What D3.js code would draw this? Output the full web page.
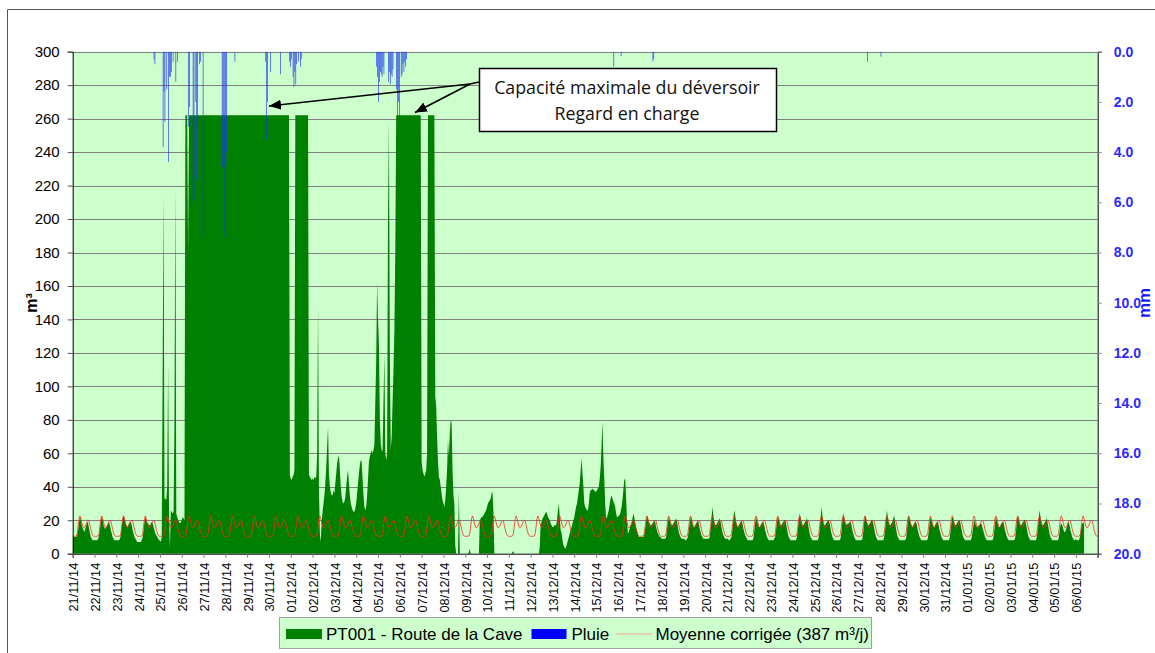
<!DOCTYPE html>
<html>
<head>
<meta charset="utf-8">
<script src="https://cdn.jsdelivr.net/npm/d3@7"></script>
<style>
  body { margin: 0; background: #fff; }
  svg { display: block; font-family: Arial, "Liberation Sans", sans-serif; }
</style>
</head>
<body>
<svg id="chart" width="1155" height="653"></svg>
<script>
// ---- Axis labels and ticks ----
const dayLabels = [
  "21/11/14","22/11/14","23/11/14","24/11/14","25/11/14","26/11/14","27/11/14","28/11/14","29/11/14","30/11/14",
  "01/12/14","02/12/14","03/12/14","04/12/14","05/12/14","06/12/14","07/12/14","08/12/14","09/12/14","10/12/14",
  "11/12/14","12/12/14","13/12/14","14/12/14","15/12/14","16/12/14","17/12/14","18/12/14","19/12/14","20/12/14",
  "21/12/14","22/12/14","23/12/14","24/12/14","25/12/14","26/12/14","27/12/14","28/12/14","29/12/14","30/12/14",
  "31/12/14","01/01/15","02/01/15","03/01/15","04/01/15","05/01/15","06/01/15"
];
const flowTicks = [0, 20, 40, 60, 80, 100, 120, 140, 160, 180, 200, 220, 240, 260, 280, 300];
const rainTicks = [0, 2, 4, 6, 8, 10, 12, 14, 16, 18, 20];

// ---- Hourly flow at PT001 (m³ per hour), one row per day, 0h..23h ----
const flowNov = [
  [11,10,10,10,10,11,14,19,22,20,17,15,14,13,15,17,19,18,15,12,10,9,8,8],
  [8,8,8,8,9,11,15,20,22,20,17,15,15,16,17,18,19,17,14,12,10,9,8,8],
  [8,8,8,8,9,11,16,21,23,21,18,17,16,17,18,19,19,17,14,12,10,9,8,7],
  [7,7,7,7,8,10,14,19,22,20,18,18,17,17,18,19,18,16,14,12,11,10,9,8],
  [8,7,10,110,216,33,33,32,40,114,25,3,26,25,24,25,80,220,24,22,20,19,18,19],
  [20,22,21,20,262,262,262,180,262,262,262,262,262,262,262,262,262,262,262,262,262,262,262,262],
  [262,262,262,262,262,262,262,262,262,262,262,262,262,262,262,262,262,262,262,262,262,262,262,262],
  [262,262,262,262,262,262,262,262,262,262,262,262,262,262,262,262,262,262,262,262,262,262,262,262],
  [262,262,262,262,262,262,262,262,262,262,262,262,262,262,262,262,262,262,262,262,262,262,262,262],
  [262,262,262,262,262,262,262,262,262,262,262,262,262,262,262,262,262,262,262,262,262,262,262,47]
];
const flowDec = [
  [45,44,46,47,50,262,262,262,262,262,262,262,262,262,262,262,262,262,262,262,47,46,45,44],
  [45,44,46,45,46,60,148,40,12,7,20,25,30,35,42,52,64,76,48,40,37,35,35,38],
  [36,42,48,54,57,59,50,40,34,31,30,31,34,40,46,50,42,35,30,28,26,25,25,27],
  [30,36,42,48,53,56,55,45,35,28,26,28,35,45,55,58,60,62,60,62,65,90,115,162],
  [140,126,80,66,62,61,90,120,60,56,60,200,259,120,62,70,90,110,134,180,262,262,262,262],
  [262,262,262,262,262,262,262,262,262,262,262,262,262,262,262,262,262,262,262,262,262,262,262,262],
  [55,50,48,46,48,50,60,262,262,262,262,262,262,262,262,94,88,70,55,46,44,40,36,32],
  [30,28,32,40,50,68,58,72,80,78,50,35,30,5,0,0,0,38,0,0,0,0,0,0],
  [0,0,0,0,1,3,0,0,0,0,0,0,0,0,0,0,20,21,22,22,23,24,25,26],
  [28,30,31,32,33,36,37,25,0,0,0,0,0,0,0,0,0,0,0,0,0,0,0,0],
  [0,0,0,0,1,1.5,0,0,0,0,0,0,0,0,0,0,0,0,0,0,0,0,0,0],
  [0,0,0,0,0,0,0,0,0,0,4,17,19,21,22,23,24,25,24,22,21,20,18,17],
  [16,16,17,17,17,20,26,30,22,14,12,8,5,4,3,4,6,8,10,12,14,16,18,20],
  [22,25,28,30,34,38,42,50,57,48,40,30,28,27,26,26,30,36,38,38,39,38,38,37],
  [37,38,39,40,45,52,65,79,58,45,30,21,22,24,26,30,33,35,33,31,30,28,24,22],
  [22,23,23,25,28,32,38,44,45,34,20,12,13,15,17,18,21,24,22,19,16,14,12,10],
  [10,10,10,10,10,11,15,19,23,21,19,18,17,17,18,19,20,19,16,14,12,11,10,10],
  [9,9,9,9,9,10,14,19,22,20,18,17,17,18,19,20,21,19,16,13,11,10,9,9],
  [9,9,8,8,9,10,14,18,22,21,18,16,16,17,18,19,20,18,15,13,11,10,9,9],
  [9,9,9,9,9,10,15,21,28,23,19,17,17,18,19,20,21,19,16,13,11,10,9,9],
  [9,9,8,8,9,10,14,20,26,23,19,17,16,17,18,19,20,18,15,13,11,10,9,8],
  [8,8,8,8,8,9,13,18,22,20,18,16,16,17,18,19,19,17,14,12,10,9,8,8],
  [8,8,8,8,9,10,14,19,22,21,18,17,17,18,19,20,20,18,15,12,10,9,8,8],
  [8,8,8,8,8,10,14,20,24,22,19,17,17,18,19,20,21,19,15,12,10,9,8,8],
  [8,8,8,8,8,10,14,20,28,23,19,17,17,18,19,20,20,18,15,12,10,9,8,8],
  [8,8,8,8,8,9,13,20,24,22,19,18,17,18,18,19,19,17,14,12,10,9,8,8],
  [8,8,8,8,8,9,13,19,23,21,19,17,17,18,19,20,20,18,15,12,10,9,8,8],
  [8,8,8,8,8,10,14,20,26,22,19,17,17,18,19,21,23,19,15,12,10,9,8,8],
  [8,8,8,8,8,9,13,19,23,21,18,17,16,17,18,19,19,17,14,12,10,9,8,8],
  [8,8,8,8,8,9,13,18,22,20,18,16,16,17,18,19,19,17,14,12,10,9,8,8],
  [8,8,8,8,8,9,13,18,22,21,18,17,17,18,19,20,20,18,15,12,10,9,8,8]
];
const flowJan = [
  [8,8,8,8,8,9,12,16,20,19,17,16,16,17,17,18,18,16,14,12,10,9,8,8],
  [8,8,8,8,8,9,13,18,22,20,18,16,16,17,18,19,19,17,14,12,10,9,8,8],
  [8,8,8,8,8,9,13,19,23,21,18,17,17,18,19,20,20,18,15,12,10,9,8,8],
  [8,8,8,8,8,10,14,20,26,22,19,17,17,18,19,20,21,18,15,12,10,9,8,8],
  [8,8,8,8,8,9,13,17,18,17,15,13,13,14,16,18,19,17,14,12,10,9,8,8],
  [9,8,8,8,9,12,16,18,18,19]
];

// ---- Hourly rainfall (mm): [day index from 21/11, hour, mm] ----
const rainHours = [
  [3,17,0.3],[3,18,0.5],
  [4,3,3.8],[4,4,1.6],[4,5,2.8],[4,7,1.5],[4,9,4.4],[4,10,1.0],[4,11,1.0],[4,12,0.8],[4,14,0.4],[4,17,1.2],[4,19,0.4],
  [5,7,3.0],[5,8,2.2],[5,12,6.0],[5,13,5.9],[5,15,2.0],[5,16,5.1],[5,17,3.0],[5,19,0.5],[5,20,0.4],[5,23,7.4],
  [6,20,4.6],[6,21,4.6],[6,22,4.5],[6,23,7.4],[7,0,4.6],[7,1,4.0],[7,10,0.4],
  [8,20,0.4],[8,21,3.5],[8,22,2.0],[9,1,0.8],[9,12,0.9],[9,22,0.4],[9,23,0.6],
  [10,0,0.3],[10,2,1.0],[10,3,1.4],[10,4,0.8],[10,5,1.3],[10,6,0.5],[10,8,0.4],[10,10,0.6],[10,11,0.3],
  [13,22,0.6],[13,23,1.0],[14,0,2.0],[14,1,1.2],[14,2,0.8],[14,3,0.9],[14,4,1.0],[14,5,0.6],[14,6,0.9],
  [14,11,1.2],[14,12,0.8],[14,13,1.3],[14,14,0.9],[14,15,1.0],[14,16,0.7],
  [14,20,1.5],[14,21,2.8],[14,22,2.0],[14,23,2.8],
  [15,1,1.0],[15,2,0.9],[15,3,0.5],[15,4,0.8],[15,5,0.4],[15,6,0.6],[15,7,0.3],
  [24,19,0.6],[25,3,0.17],[26,14,0.4],[26,15,0.3],[36,10,0.4],[37,1,0.2]
];

// ---- Corrected mean daily profile (m³ per hour), 0h..23h ----
const meanProfile = [10.4,10.4,10.4,10.4,10.6,12,16.5,21,22.6,21,18.5,16.5,15.5,15.8,16.5,18,19.3,20,19.5,17,14.5,12.5,11,10.5];

// ---- Layout ----
const plot = { left: 72.7, right: 1097.7, top: 51.7, bottom: 553.7 };
const nDays = dayLabels.length;
const svg = d3.select("#chart");

const x = d3.scaleLinear().domain([0, nDays * 24]).range([plot.left, plot.right]);
const y = d3.scaleLinear().domain([0, 300]).range([plot.bottom, plot.top]);
const yRain = d3.scaleLinear().domain([0, 20]).range([plot.top, plot.bottom]);

// flatten the hourly flow into one series
const flow = [];
[...flowNov, ...flowDec, ...flowJan].forEach((row, d) => {
  row.forEach((v, h) => flow.push({ t: d * 24 + h, v }));
});

// the mean profile applies to every day of the period
const mean = [];
for (let d = 0; d < nDays; d++) meanProfile.forEach((v, h) => mean.push({ t: d * 24 + h, v }));
mean.push({ t: nDays * 24, v: meanProfile[0] });

// outer frame
svg.append("path").attr("d", "M7.5,653V9.5H1155").attr("fill", "none").attr("stroke", "#555").attr("stroke-width", 1);

// plot background
svg.append("rect")
  .attr("x", plot.left).attr("y", plot.top)
  .attr("width", plot.right - plot.left).attr("height", plot.bottom - plot.top)
  .attr("fill", "#ccffcc");

svg.append("clipPath").attr("id", "plotClip").append("rect")
  .attr("x", plot.left).attr("y", plot.top)
  .attr("width", plot.right - plot.left).attr("height", plot.bottom - plot.top);

// horizontal gridlines
svg.append("g").selectAll("line").data(flowTicks.slice(1)).join("line")
  .attr("x1", plot.left).attr("x2", plot.right)
  .attr("y1", d => Math.round(y(d)) + 0.5).attr("y2", d => Math.round(y(d)) + 0.5)
  .attr("stroke", "#808080").attr("stroke-width", 1);

const g = svg.append("g").attr("clip-path", "url(#plotClip)");

// flow area
g.append("path").datum(flow)
  .attr("d", d3.area().x(d => x(d.t)).y0(y(0)).y1(d => y(d.v)))
  .attr("fill", "#008000");

// rain bars hanging from the top
const hourW = x(1) - x(0);
g.append("g").selectAll("rect").data(rainHours).join("rect")
  .attr("x", d => x(d[0] * 24 + d[1]) + hourW * 0.15)
  .attr("y", yRain(0))
  .attr("width", hourW * 0.7)
  .attr("height", d => yRain(d[2]) - yRain(0))
  .attr("fill", "#1f35f5");

// corrected mean line
g.append("path").datum(mean)
  .attr("d", d3.line().x(d => x(d.t)).y(d => y(d.v)))
  .attr("fill", "none").attr("stroke", "#ff2a1a").attr("stroke-width", 0.8);

// left axis
const axL = svg.append("g").attr("transform", `translate(${plot.left},0)`)
  .call(d3.axisLeft(y).tickValues(flowTicks).tickSize(5).tickPadding(8).tickFormat(d3.format("d")));
axL.select(".domain").attr("stroke", "#000");
axL.selectAll(".tick line").attr("stroke", "#555");
axL.selectAll("text").attr("font-size", 15).attr("fill", "#000").attr("font-family", "Arial, 'Liberation Sans', sans-serif");

// right axis (rain, reversed)
const axR = svg.append("g").attr("transform", `translate(${plot.right},0)`)
  .call(d3.axisRight(yRain).tickValues(rainTicks).tickSize(4).tickPadding(12).tickFormat(d3.format(".1f")));
axR.select(".domain").attr("stroke", "#000");
axR.selectAll(".tick line").attr("stroke", "#888");
axR.selectAll("text").attr("font-size", 14).attr("font-weight", "bold").attr("fill", "#2a2aff")
  .attr("font-family", "Arial, 'Liberation Sans', sans-serif");

// bottom axis with one tick per day
const axB = svg.append("g").attr("transform", `translate(0,${plot.bottom})`)
  .call(d3.axisBottom(x).tickValues(dayLabels.map((_, i) => i * 24)).tickSize(4)
    .tickFormat((d, i) => dayLabels[i]));
axB.select(".domain").attr("stroke", "#000");
axB.selectAll(".tick line").attr("stroke", "#777");
axB.selectAll("text")
  .attr("transform", "rotate(-90)")
  .attr("text-anchor", "end")
  .attr("x", -9).attr("y", 0).attr("dy", "0.38em")
  .attr("font-size", 12.8).attr("fill", "#000")
  .attr("font-family", "Arial, 'Liberation Sans', sans-serif");
// closing tick at the right end of the axis
axB.append("line").attr("x1", plot.right).attr("x2", plot.right).attr("y1", 0).attr("y2", 4).attr("stroke", "#777");

// axis titles
svg.append("text").attr("transform", "translate(37,303) rotate(-90)")
  .attr("text-anchor", "middle").attr("font-size", 16).attr("font-weight", "bold").text("m³");
svg.append("text").attr("transform", "translate(1150,303) rotate(-90)")
  .attr("text-anchor", "middle").attr("font-size", 17).attr("font-weight", "bold").attr("fill", "#1a1aff").text("mm");

// annotation with arrows
const defs = svg.append("defs");
defs.append("marker").attr("id", "arrowHead").attr("viewBox", "0 0 12 10")
  .attr("refX", 12).attr("refY", 5).attr("markerWidth", 12).attr("markerHeight", 10)
  .attr("markerUnits", "userSpaceOnUse").attr("orient", "auto")
  .append("path").attr("d", "M0,0L12,5L0,10Z").attr("fill", "#000");

const arrowFrom = [470, 84];
const arrowTargets = [[269, 106], [415, 112.5]];
svg.append("g").selectAll("line").data(arrowTargets).join("line")
  .attr("x1", arrowFrom[0]).attr("y1", arrowFrom[1])
  .attr("x2", d => d[0]).attr("y2", d => d[1])
  .attr("stroke", "#000").attr("stroke-width", 1.6).attr("marker-end", "url(#arrowHead)");
svg.append("line").attr("x1", arrowFrom[0]).attr("y1", arrowFrom[1]).attr("x2", 479).attr("y2", 82)
  .attr("stroke", "#000").attr("stroke-width", 1.6);

svg.append("rect").attr("x", 479.5).attr("y", 68.5).attr("width", 297).attr("height", 63)
  .attr("fill", "#fff").attr("stroke", "#000").attr("stroke-width", 1.5);
const noteLines = ["Capacité maximale du déversoir", "Regard en charge"];
svg.append("g").selectAll("text").data(noteLines).join("text")
  .attr("x", 627).attr("y", (d, i) => 93.5 + i * 26)
  .attr("text-anchor", "middle").attr("font-size", 17.8).attr("fill", "#111")
  .attr("font-family", "'Open Sans', 'Noto Sans', sans-serif")
  .text(d => d);

// legend
const lg = svg.append("g").attr("font-size", 17);
lg.append("rect").attr("x", 279.5).attr("y", 617.5).attr("width", 592).attr("height", 31)
  .attr("fill", "#ccffcc").attr("stroke", "#a0a0a0").attr("stroke-width", 1);
lg.append("rect").attr("x", 286).attr("y", 629).attr("width", 36).attr("height", 10).attr("fill", "#008000");
lg.append("text").attr("x", 326).attr("y", 640).text("PT001 - Route de la Cave");
lg.append("rect").attr("x", 531.5).attr("y", 629).attr("width", 35).attr("height", 10).attr("fill", "#0000ff");
lg.append("text").attr("x", 571.5).attr("y", 640).text("Pluie");
lg.append("line").attr("x1", 616).attr("x2", 652).attr("y1", 634).attr("y2", 634)
  .attr("stroke", "#e8c4a8").attr("stroke-width", 1.5);
lg.append("text").attr("x", 655.5).attr("y", 640).text("Moyenne corrigée (387 m³/j)");
</script>
</body>
</html>
